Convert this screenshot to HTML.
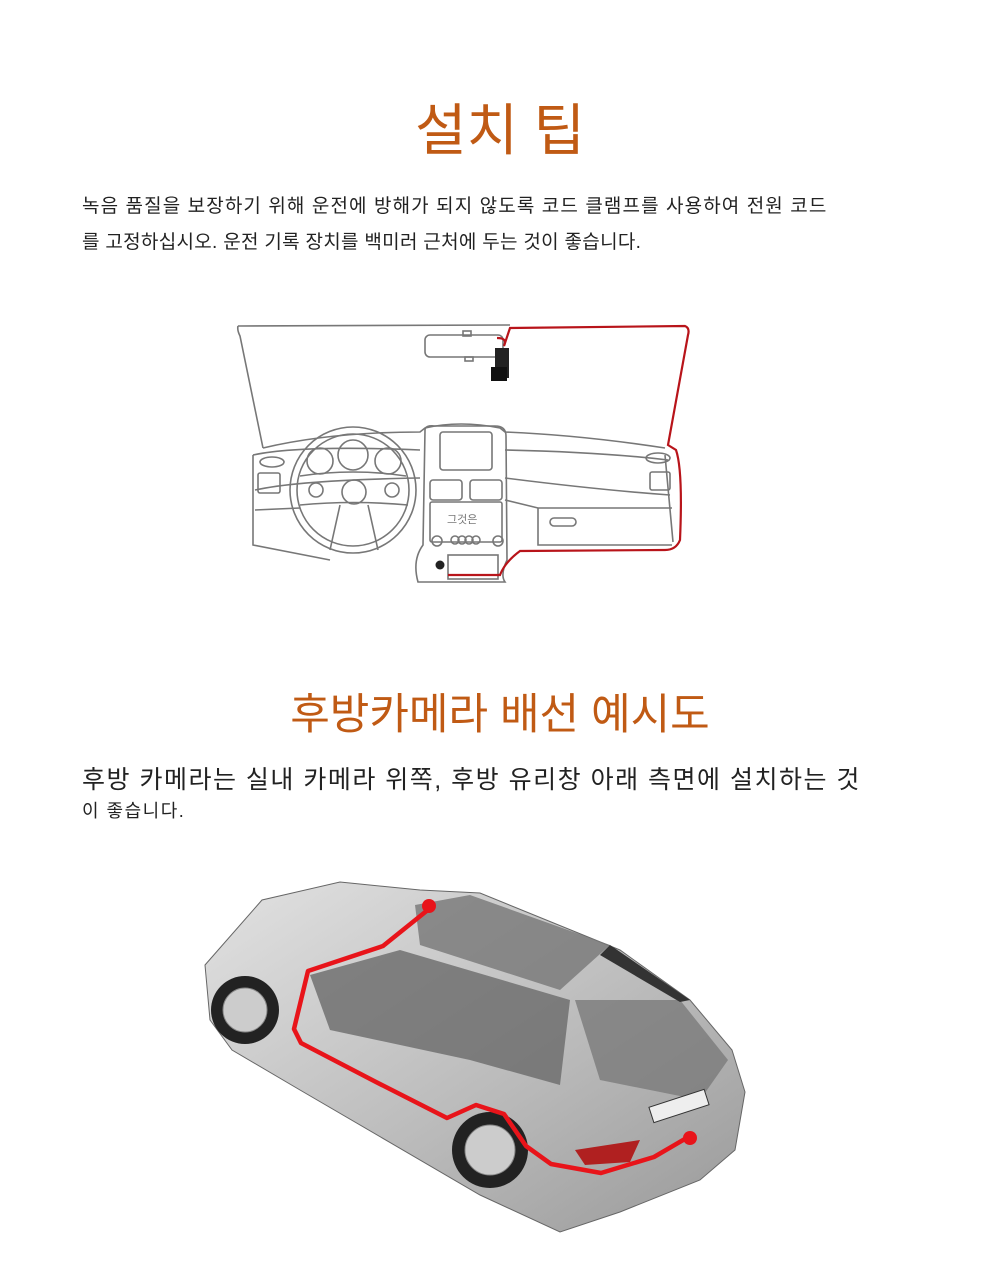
<!DOCTYPE html>
<html><head><meta charset="utf-8">
<style>
body{margin:0;background:#fff;width:1000px;height:1278px;position:relative;overflow:hidden;font-family:"Liberation Sans","Noto Sans CJK KR",sans-serif;}
.t{position:absolute;left:0;width:1000px;text-align:center;color:#c05a14;}
.p{position:absolute;left:82px;color:#222;white-space:nowrap;}
</style></head><body>
<div class="t" style="top:86px;font-size:56px;">설치 팁</div>
<div class="p" style="top:191px;font-size:19px;letter-spacing:1.1px;">녹음 품질을 보장하기 위해 운전에 방해가 되지 않도록 코드 클램프를 사용하여 전원 코드</div>
<div class="p" style="top:227px;font-size:19px;letter-spacing:0.3px;">를 고정하십시오. 운전 기록 장치를 백미러 근처에 두는 것이 좋습니다.</div>

<svg style="position:absolute;left:0;top:0" width="1000" height="1278">
<g fill="none" stroke="#777" stroke-width="1.6">
<path d="M238,326 L510,325 M238,326 Q237,330 240,336 L263,448"/>
<rect x="425" y="335" width="78" height="22" rx="5"/>
<rect x="463" y="331" width="8" height="5"/><rect x="465" y="357" width="8" height="4"/>
<path d="M263,448 Q330,432 420,432 L425,428 Q460,420 500,428 L505,432 Q580,435 665,448"/>
<path d="M253,455 L253,545 L330,560 M665,455 L673,542"/>
<path d="M253,455 Q300,445 420,450 M505,450 Q600,452 668,460"/>
<path d="M255,490 Q300,480 420,478 M505,478 Q600,490 670,495"/>
<path d="M255,510 L300,508 M505,500 L538,508 L672,508"/>
<path d="M538,508 L538,545 L672,545"/>
<path d="M425,430 Q425,425 435,426 L495,426 Q506,426 506,436 L507,560 Q500,575 505,582 L418,582 Q412,560 423,545 Z"/>
<rect x="440" y="432" width="52" height="38" rx="3"/>
<rect x="430" y="480" width="32" height="20" rx="3"/>
<rect x="470" y="480" width="32" height="20" rx="3"/>
<rect x="430" y="502" width="72" height="40" rx="2"/>
<rect x="448" y="555" width="50" height="24"/>
<circle cx="437" cy="541" r="5"/><circle cx="498" cy="541" r="5"/>
<circle cx="455" cy="540" r="4"/><circle cx="462" cy="540" r="4"/><circle cx="469" cy="540" r="4"/><circle cx="476" cy="540" r="4"/>
<rect x="550" y="518" width="26" height="8" rx="4"/>
<circle cx="353" cy="490" r="63"/><circle cx="353" cy="490" r="56"/>
<circle cx="320" cy="461" r="13"/><circle cx="353" cy="455" r="15"/><circle cx="388" cy="461" r="13"/>
<circle cx="316" cy="490" r="7"/><circle cx="354" cy="492" r="12"/><circle cx="392" cy="490" r="7"/>
<path d="M300,476 Q353,468 406,476 M300,505 Q353,500 408,505 M340,505 L330,550 M368,505 L378,550"/>
<ellipse cx="272" cy="462" rx="12" ry="5"/><ellipse cx="658" cy="458" rx="12" ry="5"/>
<rect x="258" y="473" width="22" height="20" rx="2"/><rect x="650" y="472" width="20" height="18" rx="2"/>
</g>
<text x="447" y="523" font-size="11" fill="#777" font-family="Liberation Sans,Noto Sans CJK KR,sans-serif">그것은</text>
<rect x="495" y="348" width="14" height="30" fill="#222"/><rect x="491" y="367" width="16" height="14" fill="#111"/>
<path d="M497,338 Q508,338 504,346 L510,328 L685,326 Q690,328 688,335 L668,445 L676,450 Q683,470 680,540 Q676,550 665,550 L520,551 Q505,562 500,575 L448,575" fill="none" stroke="#b8141a" stroke-width="2.2"/>
<circle cx="440" cy="565" r="4.5" fill="#222"/>
</svg>

<div class="t" style="top:680px;font-size:43px;">후방카메라 배선 예시도</div>
<div class="p" style="top:760px;font-size:25px;letter-spacing:1.5px;">후방 카메라는 실내 카메라 위쪽, 후방 유리창 아래 측면에 설치하는 것</div>
<div class="p" style="top:797px;font-size:18px;letter-spacing:1.5px;">이 좋습니다.</div>

<svg style="position:absolute;left:0;top:0" width="1000" height="1278">
<defs><linearGradient id="g" x1="0" y1="0" x2="1" y2="1"><stop offset="0" stop-color="#e2e2e2"/><stop offset="0.6" stop-color="#b8b8b8"/><stop offset="1" stop-color="#999"/></linearGradient></defs>
<path d="M205,965 L262,900 L340,882 L420,890 L480,893 L620,950 L690,1000 L732,1050 L745,1092 L735,1150 L700,1180 L620,1212 L560,1232 L480,1195 L300,1090 L232,1050 L210,1020 Z" fill="url(#g)" stroke="#666" stroke-width="1"/>
<path d="M415,905 L470,895 L610,945 L560,990 L420,945 Z" fill="#777" opacity="0.8"/>
<path d="M310,975 L400,950 L570,1000 L560,1085 L470,1060 L330,1030 Z" fill="#6a6a6a" opacity="0.8"/>
<path d="M575,1000 L680,1000 L728,1060 L700,1100 L600,1080 Z" fill="#7a7a7a" opacity="0.8"/>
<path d="M610,945 L690,1000 L680,1002 L600,955 Z" fill="#333"/>
<circle cx="245" cy="1010" r="34" fill="#222"/><circle cx="245" cy="1010" r="22" fill="#ccc" stroke="#888"/>
<circle cx="490" cy="1150" r="38" fill="#222"/><circle cx="490" cy="1150" r="25" fill="#ccc" stroke="#888"/>
<path d="M575,1150 L640,1140 L630,1162 L585,1165 Z" fill="#b02020"/>
<rect x="650" y="1098" width="58" height="16" fill="#eee" stroke="#333" transform="rotate(-18 679 1106)"/>
<polyline points="429,909 383,946 308,971 294,1029 301,1043 376,1082 447,1118 476,1105 504,1114 526,1146 551,1164 601,1173 654,1157 690,1136" fill="none" stroke="#e8141a" stroke-width="4.5" stroke-linejoin="round"/>
<circle cx="429" cy="906" r="7" fill="#e8141a"/><circle cx="690" cy="1138" r="7" fill="#e8141a"/>
</svg>
</body></html>
